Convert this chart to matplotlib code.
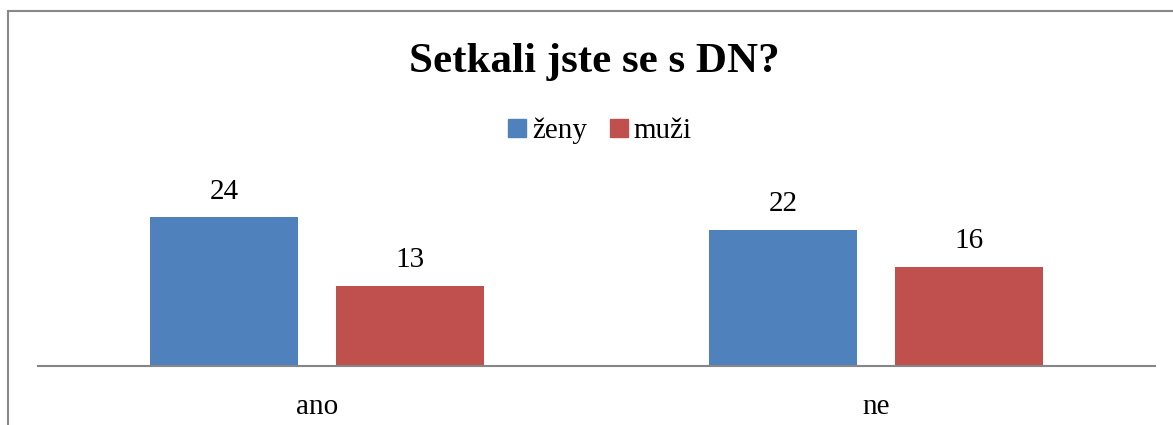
import matplotlib
matplotlib.use("Agg")
import matplotlib.pyplot as plt
from matplotlib.patches import Rectangle, Patch
import numpy as np

categories = ["ano", "ne"]
series_names = ["ženy", "muži"]
zeny = [24, 22]
muzi = [13, 16]
title = "Setkali jste se s DN?"

colors = ["#4F81BD", "#C0504D"]
W, H = 1173, 425
fig = plt.figure(figsize=(W / 100, H / 100), dpi=100)
plt.rcParams["font.family"] = ["Liberation Serif", "DejaVu Serif"]

# chart border
fig.patches.append(Rectangle((8 / W, -0.1), 1.2, (1 - 11 / H) + 0.1, transform=fig.transFigure,
                             fill=False, edgecolor="#888888", linewidth=1.5))

ax_left, ax_right = 38 / W, 1155 / W
ax_bottom = (H - 366) / H
ymax = 28
ax_height = ymax * 6.19 / H
ax = fig.add_axes([ax_left, ax_bottom, ax_right - ax_left, ax_height])

x = np.arange(len(categories))
bw = 0.265
off = 0.1665
vals = [zeny, muzi]
for i, (name, v) in enumerate(zip(series_names, vals)):
    pos = x + (-off if i == 0 else off)
    bars = ax.bar(pos, v, width=bw, color=colors[i], label=name, zorder=2)
    for b, val in zip(bars, v):
        ax.annotate(str(val), (b.get_x() + b.get_width() / 2, val), xytext=(0, 9),
                    textcoords="offset points", ha="center", va="bottom", fontsize=21,
                    annotation_clip=False)

ax.set_xlim(-0.5, 1.5)
ax.set_ylim(0, ymax)
ax.set_xticks(x)
ax.set_xticklabels(categories, fontsize=21)
ax.tick_params(axis="x", length=0, pad=20)
ax.set_yticks([])
for s in ["top", "right", "left"]:
    ax.spines[s].set_visible(False)
ax.spines["bottom"].set_color("#868686")
ax.spines["bottom"].set_linewidth(1.5)
ax.patch.set_visible(False)

fig.text(594 / W, 1 - 72 / H, title, ha="center", va="baseline", fontsize=31, fontweight="bold")

handles = [Patch(color=c) for c in colors]
fig.legend(handles, series_names, loc="center", bbox_to_anchor=(600 / W, 1 - 131 / H), ncol=2,
           frameon=False, fontsize=21, handlelength=0.6, handleheight=0.6, handletextpad=0.2,
           columnspacing=0.8)

fig.savefig("out.png", dpi=100)
